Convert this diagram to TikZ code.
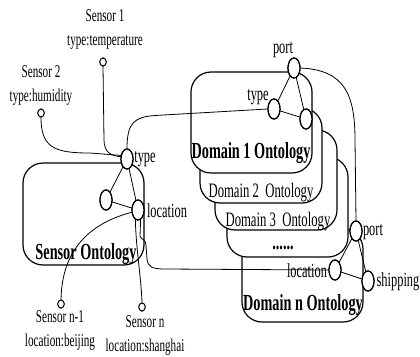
\documentclass[tikz,border=0pt]{standalone}
\usepackage{fontspec}
\setmainfont{Liberation Serif}[FakeStretch=0.62]
\usetikzlibrary{shapes.geometric}
\tikzset{
 box/.style={draw, line width=1.2pt, rounded corners=20pt, fill=white},
 onode/.style={ellipse, draw, line width=1.2pt, fill=white, minimum width=12pt, minimum height=20pt, inner sep=0pt},
 snode/.style={ellipse, draw, line width=0.9pt, fill=white, minimum width=6.5pt, minimum height=8pt, inner sep=0pt},
 conn/.style={line width=0.8pt},
 slabel/.style={font=\fontsize{18}{24}\selectfont, align=center, inner sep=0pt},
 nlabel/.style={font=\fontsize{20}{22}\selectfont, inner sep=0pt},
 blabel/.style={font=\bfseries\fontsize{23}{26}\selectfont, inner sep=0pt},
 dlabel/.style={font=\fontsize{20.5}{22}\selectfont, inner sep=0pt}
}
\begin{document}
\begin{tikzpicture}[x=1pt,y=-1pt]
\useasboundingbox (0,0) rectangle (420,356);
% ontology boxes (back to front)
\draw[box] (242,229) rectangle (363,322);
\draw[box] (227,157) rectangle (348,257);
\draw[box] (215,130) rectangle (337,230);
\draw[box] (200,108) rectangle (322,203);
\draw[box] (191,72) rectangle (312,173);
\draw[box] (23,163) rectangle (144,265);
% nodes
\node[snode] (s1) at (103,62) {};
\node[snode] (s2) at (41,113) {};
\node[snode] (sn1) at (61,304) {};
\node[snode] (sn) at (142,307) {};
\node[onode] (stype) at (127,159) {};
\node[onode] (sA) at (106,200) {};
\node[onode] (sloc) at (138,210) {};
\node[onode] (d1port) at (294,68) {};
\node[onode] (d1type) at (274,109) {};
\node[onode] (d1c) at (306,119) {};
\node[onode] (dnport) at (356,231) {};
\node[onode] (dnloc) at (335,270) {};
\node[onode] (dnship) at (368,281) {};
% connectors
\draw[conn] (s1.south) -- (104,140) .. controls (104,153) and (112,156) .. (stype.160);
\draw[conn] (s2.south) .. controls (41,148) and (55,153) .. (90,153) -- (stype.150);
\draw[conn] (stype) -- (sA);
\draw[conn] (sA) -- (sloc);
\draw[conn] (stype) -- (sloc);
\draw[conn] (sloc.200) .. controls (95,222) and (62,245) .. (sn1.north);
\draw[conn] (sloc.255) .. controls (136,250) and (141,275) .. (sn.north);
\draw[conn] (sloc.285) -- (140,236) .. controls (141,240) and (146,239) .. (146,245) -- (147,259) .. controls (148,267) and (152,269) .. (165,269) -- (dnloc.west);
\draw[conn] (stype.north) .. controls (127,122) and (135,117) .. (155,115.5) -- (d1type.west);
\draw[conn] (d1port) -- (d1type);
\draw[conn] (d1type) -- (d1c);
\draw[conn] (d1port) -- (d1c);
\draw[conn] (d1port.east) .. controls (345,70) and (355,95) .. (355,140) -- (dnport.north);
\draw[conn] (dnport) -- (dnloc);
\draw[conn] (dnloc) -- (dnship);
\draw[conn] (dnport) -- (dnship);
% redraw ellipses on top of connectors
\foreach \n in {stype,sA,sloc,d1port,d1type,d1c,dnport,dnloc,dnship}
  \draw[line width=1.2pt, fill=white] (\n.center) ellipse[x radius=6pt, y radius=10pt];
\foreach \n in {s1,s2,sn1,sn}
  \draw[line width=0.9pt, fill=white] (\n.center) ellipse[x radius=3.25pt, y radius=4pt];
% labels
\node[slabel] (s1lab) at (105,29.5) {Sensor 1\\type:temperature};
\node[slabel] (s2lab) at (41,85) {Sensor 2\\type:humidity};
\node[slabel] (sn1lab) at (60,330) {Sensor n-1\\location:beijing};
\node[slabel] (snlab) at (145,335) {Sensor n\\location:shanghai};
\node[nlabel] (stypelab) at (145,159) {type};
\node[nlabel] (sloclab) at (167,211) {location};
\node[blabel] (sont) at (86,254) {Sensor Ontology};
\node[nlabel] (d1portlab) at (283,50) {port};
\node[nlabel] (d1typelab) at (258,97) {type};
\node[blabel] (d1ont) at (251,153) {Domain 1 Ontology};
\node[dlabel] (d2ont) at (261,193) {Domain 2\ \ Ontology};
\node[dlabel] (d3ont) at (278,222) {Domain 3\ \ Ontology};
\node[blabel] (dots) at (283,248) {......};
\node[nlabel] (dnportlab) at (373,232) {port};
\node[nlabel] (dnloclab) at (307,271) {location};
\node[nlabel] (dnshiplab) at (398,282) {shipping};
\node[blabel] (dnont) at (303,305) {Domain n Ontology};
\end{tikzpicture}
\end{document}
